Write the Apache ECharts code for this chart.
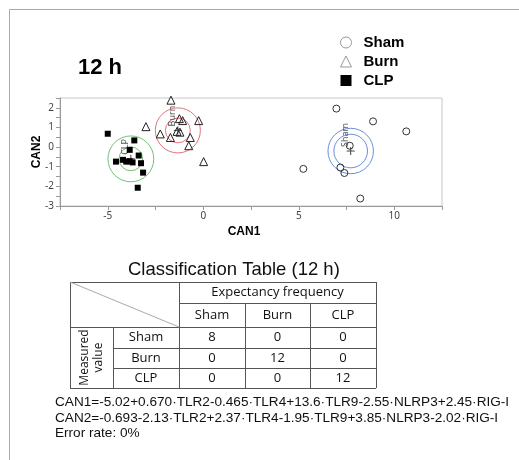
<!DOCTYPE html>
<html>
<head>
<meta charset="utf-8">
<script src="https://cdn.jsdelivr.net/npm/echarts@6/dist/echarts.min.js"></script>
<style>
html,body{margin:0;padding:0;background:#fff;}
#chart{width:519px;height:460px;}
</style>
</head>
<body>
<div id="chart"></div>
<script>
// ---- data ----
const shamCAN1 = [6.97, 8.89, 10.63, 5.24, 7.18, 7.39, 8.22, 7.67];
const shamCAN2 = [1.96, 1.31, 0.80, -1.11, -1.04, -1.32, -2.62, 0.07];
const burnCAN1 = [-1.69, -0.24, -1.25, -1.08, -2.25, -1.72, -0.68, -0.76, -1.37, -1.22, 0.02, -3.0];
const burnCAN2 = [2.39, 1.35, 1.45, 1.35, 0.67, 0.49, 0.49, 0.07, 0.80, 0.76, -0.74, 1.04];
const clpCAN1 = [-5.0, -3.61, -3.85, -4.57, -4.2, -4.03, -3.85, -3.7, -3.38, -3.26, -3.15, -3.43];
const clpCAN2 = [0.68, 0.34, -0.14, -0.74, -0.65, -0.74, -0.72, -0.78, -0.43, -0.82, -1.30, -2.07];

const groups = ['Sham', 'Burn', 'CLP'];
const centerCAN1 = [7.72, -1.33, -3.79];
const centerCAN2 = [-0.2, 0.85, -0.6];
const innerRadius = [0.88, 0.65, 0.62];
const outerRadius = [1.19, 1.18, 1.2];

const xTickStep = 2.5;
const yTickStep = 0.5;

const tableTitle = 'Classification Table (12 h)';
const tableColHeader = 'Expectancy frequency';
const tableRowHeader = 'Measured\nvalue';
const tableCols = ['Sham', 'Burn', 'CLP'];
const tableRows = ['Sham', 'Burn', 'CLP'];
const tableValues = [[8, 0, 0], [0, 12, 0], [0, 0, 12]];

const equations = [
  'CAN1=-5.02+0.670\u00B7TLR2-0.465\u00B7TLR4+13.6\u00B7TLR9-2.55\u00B7NLRP3+2.45\u00B7RIG-I',
  'CAN2=-0.693-2.13\u00B7TLR2+2.37\u00B7TLR4-1.95\u00B7TLR9+3.85\u00B7NLRP3-2.02\u00B7RIG-I',
  'Error rate: 0%'
];

// ---- styles ----
const groupColors = {Sham: '#6b8fd6', Burn: '#e27380', CLP: '#72c274'};
const zip = (a, b) => a.map((v, i) => [v, b[i]]);

// ---- table geometry (layout) ----
const colX = [70, 113, 179, 245, 310, 376];
const rowY = [282, 303, 327, 348, 368, 388];
const lineStyle = {stroke: '#555', lineWidth: 1};
const tableFont = '13px "Open Sans"';
const graphics = [];
function hline(x1, x2, y) { graphics.push({type: 'line', shape: {x1: x1, y1: y + 0.5, x2: x2, y2: y + 0.5}, style: lineStyle}); }
function vline(x, y1, y2) { graphics.push({type: 'line', shape: {x1: x + 0.5, y1: y1, x2: x + 0.5, y2: y2}, style: lineStyle}); }
function ctext(t, x, y, extra) {
  graphics.push(Object.assign({type: 'text', x: x, y: y, style: {text: t, font: tableFont, fill: '#111', textAlign: 'center', textVerticalAlign: 'middle'}}, extra || {}));
}
// page frame
graphics.push({type: 'rect', shape: {x: 9.5, y: 9.5, width: 620, height: 620}, style: {stroke: '#aaa', fill: 'none', lineWidth: 1}});
// table lines
hline(colX[0], colX[5], rowY[0]);
hline(colX[2], colX[5], rowY[1]);
hline(colX[0], colX[5], rowY[2]);
hline(colX[1], colX[5], rowY[3]);
hline(colX[1], colX[5], rowY[4]);
hline(colX[0], colX[5], rowY[5]);
vline(colX[0], rowY[0], rowY[5]);
vline(colX[1], rowY[2], rowY[5]);
vline(colX[2], rowY[0], rowY[5]);
vline(colX[3], rowY[1], rowY[5]);
vline(colX[4], rowY[1], rowY[5]);
vline(colX[5], rowY[0], rowY[5]);
graphics.push({type: 'line', shape: {x1: colX[0], y1: rowY[0], x2: colX[2], y2: rowY[2]}, style: {stroke: '#aaa', lineWidth: 1}});
// table texts
graphics.push({type: 'text', x: 128, y: 270, style: {text: tableTitle, font: '18.5px "Liberation Sans"', fill: '#111', textAlign: 'left', textVerticalAlign: 'middle'}});
ctext(tableColHeader, (colX[2] + colX[5]) / 2, (rowY[0] + rowY[1]) / 2);
tableCols.forEach((c, i) => ctext(c, (colX[2 + i] + colX[3 + i]) / 2, (rowY[1] + rowY[2]) / 2));
tableRows.forEach((r, j) => {
  ctext(r, (colX[1] + colX[2]) / 2, (rowY[2 + j] + rowY[3 + j]) / 2);
  tableValues[j].forEach((v, i) => ctext(String(v), (colX[2 + i] + colX[3 + i]) / 2, (rowY[2 + j] + rowY[3 + j]) / 2));
});
graphics.push({type: 'text', x: (colX[0] + colX[1]) / 2, y: (rowY[2] + rowY[5]) / 2, rotation: Math.PI / 2,
  style: {text: tableRowHeader, font: '12px "Open Sans"', fill: '#111', textAlign: 'center', textVerticalAlign: 'middle', lineHeight: 14}});
// equations
equations.forEach((e, i) => {
  graphics.push({type: 'text', x: 55, y: 402 + i * 15.8, style: {text: e, font: '13.6px "Liberation Sans"', fill: '#111', textVerticalAlign: 'middle'}});
});

const chart = echarts.init(document.getElementById('chart'), null, {renderer: 'canvas'});
const centroidData = groups.map((g, i) => [centerCAN1[i], centerCAN2[i], innerRadius[i], outerRadius[i], g]);

chart.setOption({
  animation: false,
  backgroundColor: '#fff',
  title: {text: '12 h', left: 73, top: 52, textStyle: {fontSize: 22, fontWeight: 'bold', fontFamily: 'Liberation Sans', color: '#000'}},
  legend: {
    orient: 'vertical', left: 340, top: 35, padding: 0, itemGap: 4, itemWidth: 11, itemHeight: 11,
    textStyle: {fontSize: 15, fontWeight: 'bold', fontFamily: 'Liberation Sans', color: '#000', padding: [0, 0, 0, 7], lineHeight: 15},
    selectedMode: false,
    data: [
      {name: 'Sham', icon: 'circle', itemStyle: {color: '#fff', borderColor: '#999', borderWidth: 1}},
      {name: 'Burn', icon: 'triangle', itemStyle: {color: '#fff', borderColor: '#999', borderWidth: 1}},
      {name: 'CLP', icon: 'rect', itemStyle: {color: '#000', borderWidth: 0}}
    ]
  },
  grid: {left: 60, right: 77, top: 98, bottom: 254, show: true, borderColor: '#c8c8c8', borderWidth: 1, backgroundColor: '#fff'},
  xAxis: {
    type: 'value', min: -7.5, max: 12.5, interval: xTickStep,
    name: 'CAN1', nameLocation: 'middle', nameGap: 20, nameMoveOverlap: false,
    nameTextStyle: {fontSize: 12, fontWeight: 'bold', fontFamily: 'Liberation Sans', color: '#000', padding: [0, 14, 0, 0]},
    axisLine: {show: true, onZero: false, lineStyle: {color: '#999'}},
    axisTick: {show: true, length: 4, lineStyle: {color: '#999'}},
    axisLabel: {fontSize: 10, color: '#444', margin: 5, fontFamily: 'Noto Sans', formatter: v => (v % 5 === 0 ? String(v) : '')},
    splitLine: {show: false}
  },
  yAxis: {
    type: 'value', min: -3, max: 2.5, interval: yTickStep,
    name: 'CAN2', nameLocation: 'middle', nameGap: 17, nameRotate: 90, nameMoveOverlap: false,
    nameTextStyle: {fontSize: 12, fontWeight: 'bold', fontFamily: 'Liberation Sans', color: '#000'},
    axisLine: {show: true, onZero: false, lineStyle: {color: '#999'}},
    axisTick: {show: true, length: 4, lineStyle: {color: '#999'}},
    axisLabel: {fontSize: 10, color: '#444', margin: 6, fontFamily: 'Noto Sans', formatter: v => (Number.isInteger(v) ? String(v) : '')},
    splitLine: {show: false}
  },
  graphic: graphics,
  series: [
    {
      name: 'Centroids', type: 'custom', z: 1,
      data: centroidData,
      renderItem: function (params, api) {
        const c = api.coord([api.value(0), api.value(1)]);
        const ri = api.size([api.value(2), 0])[0];
        const ro = api.size([api.value(3), 0])[0];
        const g = groups[params.dataIndex];
        const col = groupColors[g];
        return {
          type: 'group',
          children: [
            {type: 'circle', shape: {cx: c[0], cy: c[1], r: ri}, style: {stroke: col, fill: 'none', lineWidth: 1}},
            {type: 'circle', shape: {cx: c[0], cy: c[1], r: ro}, style: {stroke: col, fill: 'none', lineWidth: 1}},
            {type: 'line', shape: {x1: c[0] - 4, y1: c[1], x2: c[0] + 4, y2: c[1]}, style: {stroke: '#444', lineWidth: 1}},
            {type: 'line', shape: {x1: c[0], y1: c[1] - 4, x2: c[0], y2: c[1] + 4}, style: {stroke: '#444', lineWidth: 1}},
            {type: 'text', x: c[0] - 5, y: c[1] - 4, rotation: Math.PI / 2,
              style: {text: g, font: '9px "Noto Sans"', fill: '#555', textAlign: 'left', textVerticalAlign: 'middle'}}
          ]
        };
      }
    },
    {
      name: 'Sham', type: 'scatter', z: 3, symbol: 'circle', symbolSize: 7,
      itemStyle: {color: 'rgba(255,255,255,0)', borderColor: '#333', borderWidth: 1, opacity: 1},
      data: zip(shamCAN1, shamCAN2)
    },
    {
      name: 'Burn', type: 'scatter', z: 3, symbol: 'triangle', symbolSize: 8,
      itemStyle: {color: 'rgba(255,255,255,0)', borderColor: '#222', borderWidth: 1, opacity: 1},
      data: zip(burnCAN1, burnCAN2)
    },
    {
      name: 'CLP', type: 'scatter', z: 3, symbol: 'rect', symbolSize: 6,
      itemStyle: {color: '#000', opacity: 1},
      data: zip(clpCAN1, clpCAN2)
    }
  ]
});
</script>
</body>
</html>
